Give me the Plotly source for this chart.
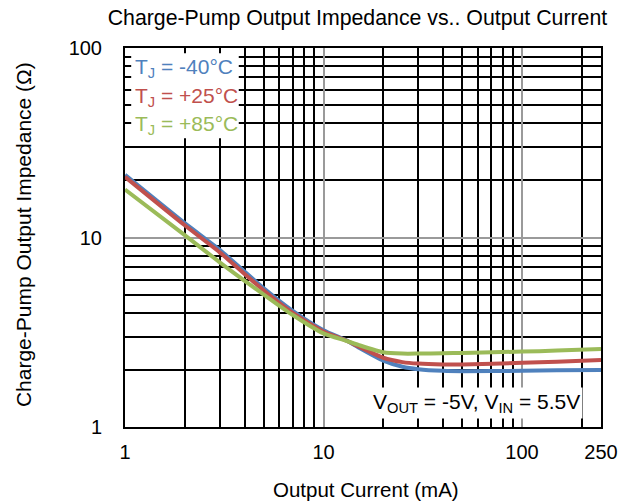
import plotly.graph_objects as go

# Output current (mA) sample points
current_ma = [1, 2, 3, 5, 7, 10, 13, 15, 20, 25, 30, 40, 50, 100, 150, 250]

# Charge-pump output impedance (ohm) per junction temperature
z_m40 = [21.4, 11.9, 8.6, 5.4, 4.1, 3.24, 2.87, 2.63, 2.24, 2.08, 2.02, 1.98, 1.97, 1.98, 1.99, 2.0]
z_p25 = [20.9, 11.6, 8.35, 5.25, 4.0, 3.19, 2.86, 2.66, 2.32, 2.2, 2.16, 2.14, 2.14, 2.18, 2.21, 2.26]
z_p85 = [17.9, 10.3, 7.4, 5.0, 3.9, 3.12, 2.85, 2.71, 2.48, 2.44, 2.44, 2.45, 2.46, 2.5, 2.53, 2.58]

series_names = ["T<sub>J</sub> = -40°C", "T<sub>J</sub> = +25°C", "T<sub>J</sub> = +85°C"]
series_colors = ["#4F81BD", "#C0504D", "#9BBB59"]

x_ticks = [1, 10, 100, 250]
x_tick_text = ["1", "10", "100", "250"]
y_ticks = [1, 10, 100]
y_tick_text = ["1", "10", "100"]

x_minor = [2, 3, 4, 5, 6, 7, 8, 9, 20, 30, 40, 50, 60, 70, 80, 90, 200]
y_minor = [2, 3, 4, 5, 6, 7, 8, 9, 20, 30, 40, 50, 60, 70, 80, 90]

FONT = "Liberation Sans, Arial, sans-serif"

fig = go.Figure()
for ys, name, color in zip([z_m40, z_p25, z_p85], series_names, series_colors):
    fig.add_trace(go.Scatter(
        x=current_ma, y=ys, name=name, mode="lines",
        line=dict(color=color, width=4, shape="spline", smoothing=0.6),
        showlegend=False,
    ))

axis_common = dict(
    type="log",
    automargin=False,
    showline=True, mirror=True, linecolor="black", linewidth=2,
    showgrid=True, gridcolor="#9a9a9a", gridwidth=1.5,
    zeroline=False,
    ticks="",
    tickfont=dict(family=FONT, size=20, color="black"),
)

fig.update_xaxes(
    **axis_common,
    range=[0, 2.39794],
    tickmode="array", tickvals=x_ticks, ticktext=x_tick_text,
    minor=dict(tickmode="array", tickvals=x_minor, showgrid=True,
               gridcolor="black", gridwidth=1.5, ticks=""),
    ticklabelstandoff=6,
)
fig.update_yaxes(
    **axis_common,
    range=[0, 2],
    tickmode="array", tickvals=y_ticks, ticktext=y_tick_text,
    minor=dict(tickmode="array", tickvals=y_minor, showgrid=True,
               gridcolor="black", gridwidth=1.5, ticks=""),
    ticklabelstandoff=17,
)

# axis titles
fig.add_annotation(xref="paper", yref="paper", x=0.506, y=-0.166,
                   xanchor="center", yanchor="middle", showarrow=False,
                   text="Output Current (mA)",
                   font=dict(family=FONT, size=20.5, color="black"))
fig.add_annotation(xref="paper", yref="paper", x=-0.213, y=0.508,
                   xanchor="center", yanchor="middle", showarrow=False,
                   textangle=-90, text="Charge-Pump Output Impedance (Ω)",
                   font=dict(family=FONT, size=21, color="black"))

# white backdrop behind the temperature key
fig.add_shape(type="rect", xref="x domain", yref="y domain",
              x0=0.013, x1=0.239, y0=0.762, y1=0.986,
              fillcolor="white", line=dict(width=0), layer="above")

key_y = [0.947, 0.871, 0.797]
for name, color, yy in zip(series_names, series_colors, key_y):
    fig.add_annotation(xref="x domain", yref="y domain", x=0.017, y=yy,
                       xanchor="left", yanchor="middle", showarrow=False,
                       text=name, font=dict(family=FONT, size=21, color=color))

fig.add_annotation(xref="x domain", yref="y domain", x=0.962, y=0.063,
                   xanchor="right", yanchor="middle", showarrow=False,
                   bgcolor="white", borderpad=2,
                   text="V<sub>OUT</sub> = -5V, V<sub>IN</sub> = 5.5V",
                   font=dict(family=FONT, size=21, color="black"))

fig.update_layout(
    width=626, height=504,
    margin=dict(l=125, r=25, t=48, b=77),
    paper_bgcolor="white", plot_bgcolor="white",
    title=dict(text="Charge-Pump Output Impedance vs.. Output Current",
               x=0.571, xanchor="center", y=0.965, yanchor="middle",
               font=dict(family=FONT, size=21.3, color="black")),
)

fig.write_html("out.html")
